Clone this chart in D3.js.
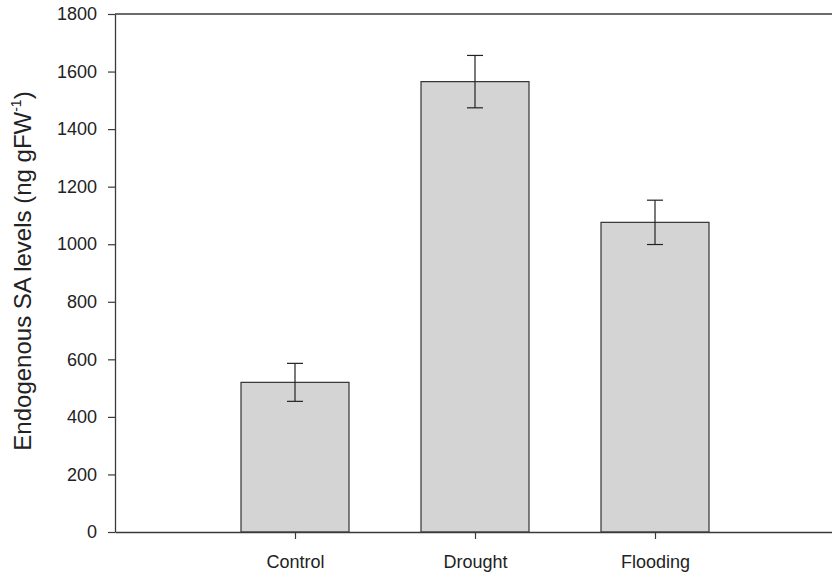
<!DOCTYPE html>
<html>
<head>
<meta charset="utf-8">
<script src="https://cdn.jsdelivr.net/npm/d3@7"></script>
<style>
    body { margin: 0; background: #fff; }
    text { font-family: "Liberation Sans", Arial, sans-serif; fill: #222; }
</style>
</head>
<body>
<div id="chart"></div>
<script>
// data
const categories = ['Control', 'Drought', 'Flooding'];
const meanValues = [520, 1565, 1076];
const errorValues = [66, 91, 77];
const yTicks = [0, 200, 400, 600, 800, 1000, 1200, 1400, 1600, 1800];

const width = 832,
    height = 575;

const margin = { left: 115, top: 14, right: -3, bottom: 43 };

const svg = d3.select('#chart').append('svg')
    .attr('width', width)
    .attr('height', height);

// categories sit at 1, 2, 3 on a 0..4 axis
const xScale = d3.scaleLinear()
    .domain([0, categories.length + 1])
    .range([margin.left, width - margin.right]);

const yScale = d3.scaleLinear()
    .domain([0, 1800])
    .range([height - margin.bottom, margin.top]);

const barWidth = 108;
const axisColor = '#3a3a3a';

// frame (top line)
svg.append('line')
    .attr('x1', xScale(0)).attr('x2', xScale(4))
    .attr('y1', yScale(1800)).attr('y2', yScale(1800))
    .attr('stroke', axisColor).attr('stroke-width', 1.3);

// bars
svg.selectAll('.bar')
    .data(meanValues)
    .enter()
    .append('rect')
    .attr('class', 'bar')
    .attr('x', (d, i) => xScale(i + 1) - barWidth / 2)
    .attr('y', d => yScale(d))
    .attr('width', barWidth)
    .attr('height', d => yScale(0) - yScale(d))
    .attr('fill', '#d4d4d4')
    .attr('stroke', '#333')
    .attr('stroke-width', 1.2);

// error bars
const errG = svg.append('g').attr('stroke', '#222').attr('stroke-width', 1.2);
meanValues.forEach((m, i) => {
    const cx = xScale(i + 1);
    const top = yScale(m + errorValues[i]),
        bottom = yScale(m - errorValues[i]);
    errG.append('line').attr('x1', cx).attr('x2', cx).attr('y1', top).attr('y2', bottom);
    errG.append('line').attr('x1', cx - 8).attr('x2', cx + 8).attr('y1', top).attr('y2', top);
    errG.append('line').attr('x1', cx - 8).attr('x2', cx + 8).attr('y1', bottom).attr('y2', bottom);
});

// y axis
const yAxis = d3.axisLeft(yScale)
    .tickValues(yTicks)
    .tickFormat(d3.format('d'))
    .tickSize(7)
    .tickPadding(11)
    .tickSizeOuter(0);

const gYAxis = svg.append('g')
    .attr('transform', 'translate(' + margin.left + ',0)')
    .call(yAxis);

// x axis
const xAxis = d3.axisBottom(xScale)
    .tickValues([1, 2, 3])
    .tickFormat(d => categories[d - 1])
    .tickSize(7)
    .tickPadding(16)
    .tickSizeOuter(0);

const gXAxis = svg.append('g')
    .attr('transform', 'translate(0,' + yScale(0) + ')')
    .call(xAxis);

[gXAxis, gYAxis].forEach(g => {
    g.select('.domain').attr('stroke', axisColor).attr('stroke-width', 1.3);
    g.selectAll('.tick line').attr('stroke', axisColor).attr('stroke-width', 1.2);
    g.selectAll('.tick text')
        .style('font-family', '"Liberation Sans", Arial, sans-serif')
        .style('font-size', '18px')
        .attr('fill', '#222');
});

// y axis label with superscript
const yLabel = svg.append('text')
    .attr('transform', 'translate(31,271) rotate(-90)')
    .attr('text-anchor', 'middle')
    .style('font-size', '24px');

yLabel.append('tspan').text('Endogenous SA levels (ng gFW');
yLabel.append('tspan').attr('dy', -10).style('font-size', '14px').text('-1');
yLabel.append('tspan').attr('dy', 10).text(')');
</script>
</body>
</html>
